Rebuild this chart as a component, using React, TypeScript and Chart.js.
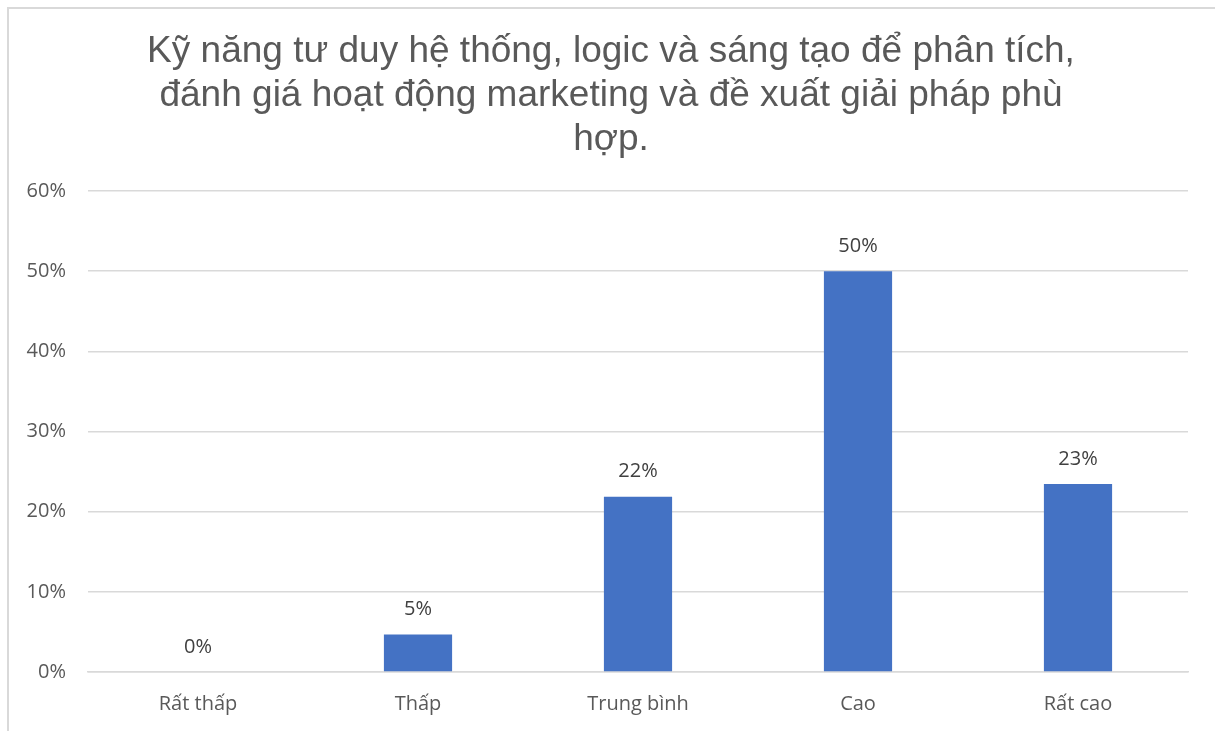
import React, { useEffect, useRef } from "react";
import { Chart, registerables } from "chart.js";

Chart.register(...registerables);

const titleLines = [
  "Kỹ năng tư duy hệ thống, logic và sáng tạo để phân tích,",
  "đánh giá hoạt động marketing và đề xuất giải pháp phù",
  "hợp.",
];
const categories = ["Rất thấp", "Thấp", "Trung bình", "Cao", "Rất cao"];
const values = [0, 4.69, 21.88, 50, 23.44];
const valueLabels = ["0%", "5%", "22%", "50%", "23%"];
const yTicks = [0, 10, 20, 30, 40, 50, 60];

const tickFont = { family: "'Open Sans', 'Noto Sans', sans-serif", size: 20 };

const dataLabelPlugin = {
  id: "dataLabels",
  afterDatasetsDraw(chart: any) {
    const meta = chart.getDatasetMeta(0);
    const ctx = chart.ctx;
    ctx.save();
    ctx.font = `20px ${tickFont.family}`;
    ctx.fillStyle = "#404040";
    ctx.textAlign = "center";
    ctx.textBaseline = "middle";
    meta.data.forEach((bar: any, i: number) => {
      ctx.fillText(valueLabels[i], bar.x, bar.y - 25);
    });
    ctx.restore();
  },
};

export default function App() {
  const canvasRef = useRef<HTMLCanvasElement | null>(null);

  useEffect(() => {
    if (!canvasRef.current) return;
    const chart = new Chart(canvasRef.current, {
      type: "bar",
      data: {
        labels: categories,
        datasets: [
          {
            data: values,
            backgroundColor: "#4472C4",
            borderWidth: 0,
            categoryPercentage: 1,
            barPercentage: 0.31,
          },
        ],
      },
      options: {
        animation: false,
        responsive: true,
        maintainAspectRatio: false,
        layout: { padding: { left: 0, right: 3, top: 0, bottom: 0 } },
        plugins: {
          legend: { display: false },
          tooltip: { enabled: false },
          title: {
            display: true,
            text: titleLines,
            color: "#595959",
            font: { family: "'Liberation Sans', Arial, sans-serif", size: 37, weight: "normal", lineHeight: 1.19 },
            padding: { top: 20, bottom: 29 },
          },
        },
        scales: {
          x: {
            grid: { display: false, drawTicks: false },
            border: { display: true, color: "#d9d9d9", width: 1.5 },
            ticks: { color: "#595959", font: tickFont, padding: 20 },
            afterFit(scale: any) {
              scale.height = 59;
            },
          },
          y: {
            min: 0,
            max: 60,
            grid: { color: "#d9d9d9", lineWidth: 1.5, drawTicks: false },
            border: { display: false },
            ticks: {
              color: "#595959",
              font: tickFont,
              padding: 22,
              stepSize: 10,
              callback: (v: any) => (yTicks.includes(Number(v)) ? `${v}%` : ""),
            },
            afterFit(scale: any) {
              scale.width = 78;
            },
          },
          yRightSpace: {
            position: "right",
            display: true,
            grid: { display: false, drawTicks: false },
            border: { display: false },
            ticks: { display: false },
            afterFit(scale: any) {
              scale.width = 24;
            },
          },
        },
      },
      plugins: [dataLabelPlugin],
    });
    return () => chart.destroy();
  }, []);

  return (
    <div
      style={{
        position: "absolute",
        left: 7,
        top: 7,
        width: 1208,
        height: 724,
        borderTop: "2px solid #d9d9d9",
        borderLeft: "2px solid #d9d9d9",
        boxSizing: "border-box",
        background: "#fff",
      }}
    >
      <div style={{ position: "absolute", left: 1, top: 1, width: 1205, height: 721 }}>
        <canvas ref={canvasRef} />
      </div>
    </div>
  );
}
